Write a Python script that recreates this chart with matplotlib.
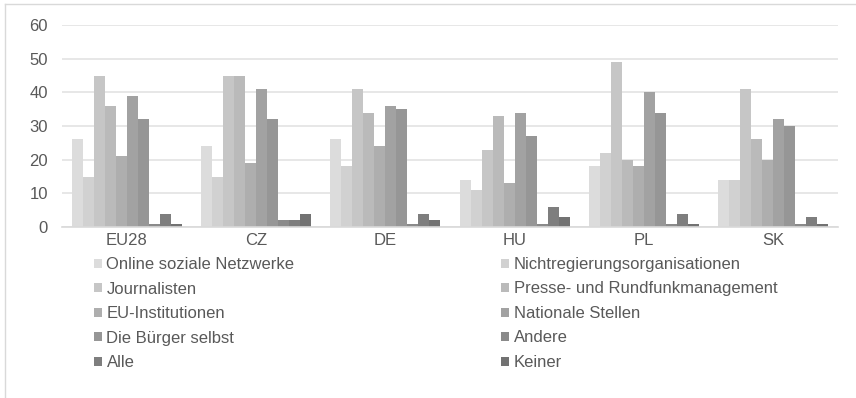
import matplotlib.pyplot as plt
import numpy as np
from matplotlib.lines import Line2D

plt.rcParams['font.family'] = ['Liberation Sans', 'DejaVu Sans']

countries = ['EU28', 'CZ', 'DE', 'HU', 'PL', 'SK']
series = ['Online soziale Netzwerke', 'Nichtregierungsorganisationen',
          'Journalisten', 'Presse- und Rundfunkmanagement',
          'EU-Institutionen', 'Nationale Stellen',
          'Die Bürger selbst', 'Andere', 'Alle', 'Keiner']

online = [26, 24, 26, 14, 18, 14]
ngo = [15, 15, 18, 11, 22, 14]
journalisten = [45, 45, 41, 23, 49, 41]
presse = [36, 45, 34, 33, 20, 26]
eu_inst = [21, 19, 24, 13, 18, 20]
national = [39, 41, 36, 34, 40, 32]
buerger = [32, 32, 35, 27, 34, 30]
andere = [1, 2, 1, 1, 1, 1]
alle = [4, 2, 4, 6, 4, 3]
keiner = [1, 4, 2, 3, 1, 1]

values = [online, ngo, journalisten, presse, eu_inst,
          national, buerger, andere, alle, keiner]
colors = ['#dcdcdc', '#d1d1d1', '#c6c6c6', '#bababa', '#aeaeae',
          '#a2a2a2', '#969696', '#8a8a8a', '#7e7e7e', '#727272']

fig = plt.figure(figsize=(8.56, 3.98), dpi=100)
ax = fig.add_axes([62 / 856, 1 - 227 / 398, 776 / 856, 202 / 398])

x = np.arange(len(countries))
n = len(series)
w = 0.85 / n
bars = []
for i in range(n):
    b = ax.bar(x - 0.425 + w * (i + 0.5), values[i], w, color=colors[i],
               label=series[i], zorder=2)
    bars.append(b)

ax.set_xlim(-0.5, len(countries) - 0.5)
ax.set_ylim(0, 60)
ax.set_yticks(range(0, 61, 10))
ax.set_xticks(x)
ax.set_xticklabels(countries)
ax.tick_params(axis='both', length=0, labelsize=12, colors='#595959')
ax.tick_params(axis='y', pad=10)
ax.tick_params(axis='x', pad=4)
ax.grid(axis='y', color='#e3e3e3', linewidth=1.2, zorder=0)
for s in ['top', 'right', 'left']:
    ax.spines[s].set_visible(False)
ax.spines['bottom'].set_color('#d9d9d9')
ax.spines['bottom'].set_linewidth(1.2)

# legend in two columns, filled row by row
order = [0, 2, 4, 6, 8, 1, 3, 5, 7, 9]
leg = fig.legend([bars[i] for i in order], [series[i] for i in order],
                 ncol=2, loc='upper left', bbox_to_anchor=(94 / 856, 1 - 257 / 398),
                 frameon=False, fontsize=12, labelcolor='#595959',
                 handlelength=0.45, handleheight=0.45, handletextpad=0.3,
                 labelspacing=0.57, columnspacing=12.4, borderpad=0,
                 borderaxespad=0)

# outer frame
fig.add_artist(Line2D([5 / 856, 1], [1 - 4 / 398, 1 - 4 / 398],
                      transform=fig.transFigure, color='#d9d9d9', lw=1))
fig.add_artist(Line2D([5 / 856, 5 / 856], [0, 1 - 4 / 398],
                      transform=fig.transFigure, color='#d9d9d9', lw=1))

fig.savefig('out.png', dpi=100)
